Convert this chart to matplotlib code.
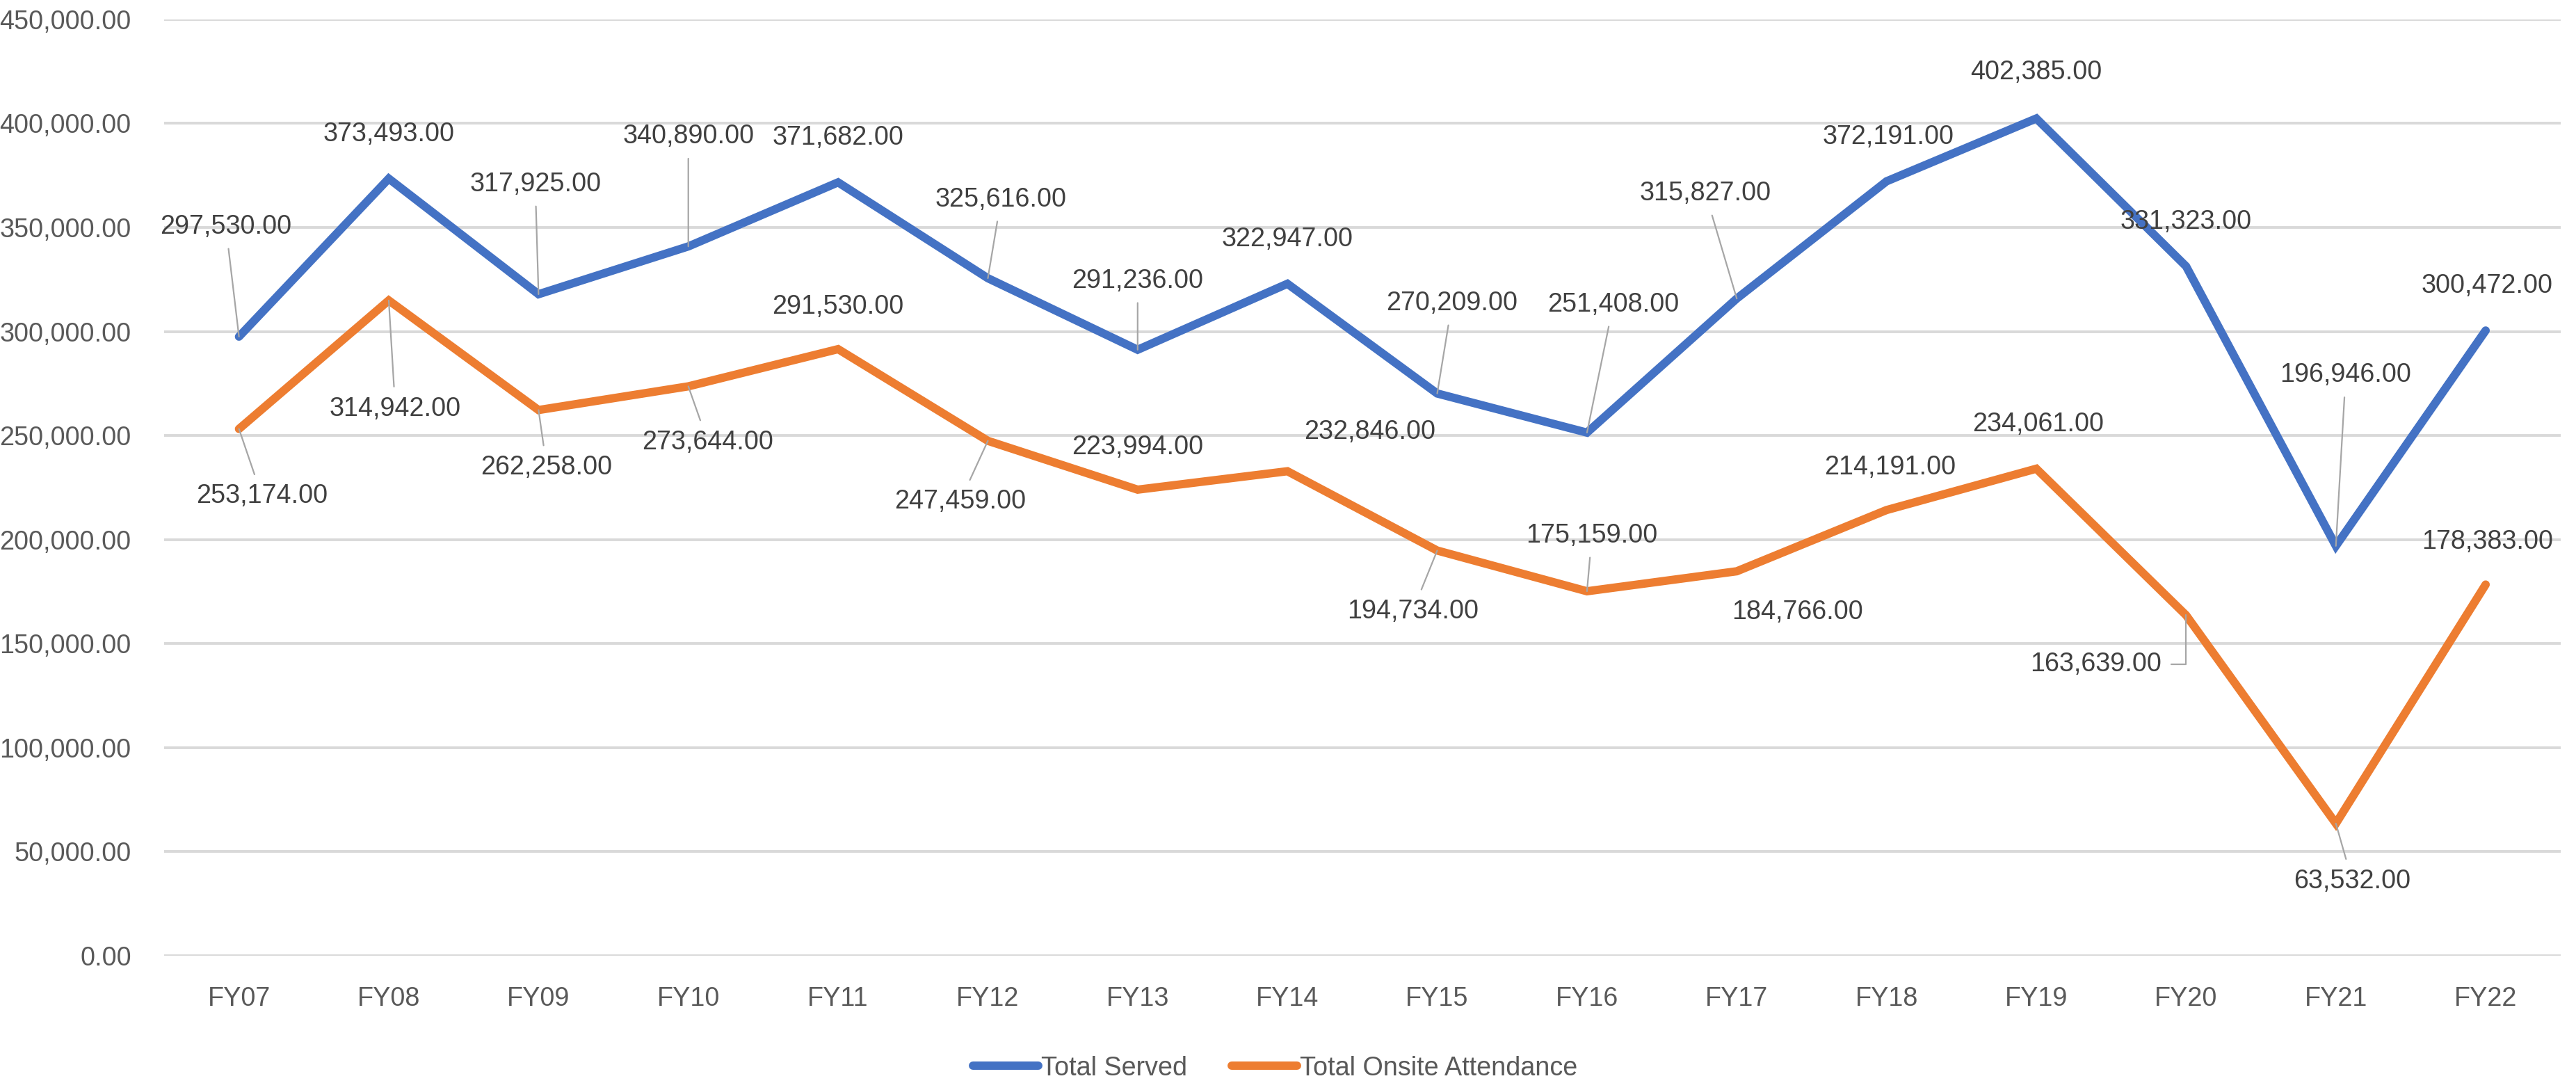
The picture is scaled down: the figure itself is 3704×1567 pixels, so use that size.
import matplotlib
matplotlib.use("Agg")
import matplotlib.pyplot as plt
from matplotlib.ticker import FuncFormatter, MultipleLocator

plt.rcParams['font.family'] = ['Liberation Sans', 'DejaVu Sans']

years = ['FY07', 'FY08', 'FY09', 'FY10', 'FY11', 'FY12', 'FY13', 'FY14',
         'FY15', 'FY16', 'FY17', 'FY18', 'FY19', 'FY20', 'FY21', 'FY22']
total_served = [297530, 373493, 317925, 340890, 371682, 325616, 291236, 322947,
                270209, 251408, 315827, 372191, 402385, 331323, 196946, 300472]
onsite_attendance = [253174, 314942, 262258, 273644, 291530, 247459, 223994, 232846,
                     194734, 175159, 184766, 214191, 234061, 163639, 63532, 178383]

# label offsets (dx, dy) in reference pixels; leader: 0 none, 1 straight, 2 elbow
served_offsets = [(-8, 67), (0, 27), (-2, 67), (0, 67), (0, 27), (8, 48), (0, 42), (0, 27),
                  (9, 55), (16, 78), (-19, 64), (1, 27), (0, 28), (0, 27), (6, 104), (1, 27)]
served_leader = [1, 0, 1, 1, 0, 1, 1, 0, 1, 1, 1, 0, 0, 0, 1, 0]
onsite_offsets = [(14, -41), (4, -66), (5, -35), (12, -34), (0, 26), (-17, -37), (0, 26), (50, 24),
                  (-15, -37), (3, 34), (37, -25), (2, 26), (1, 27), (-55, -30), (10, -35), (1, 26)]
onsite_leader = [1, 1, 1, 1, 0, 1, 0, 0, 1, 1, 0, 0, 0, 2, 1, 0]

BLUE = '#4472C4'
ORANGE = '#ED7D31'
PX = 0.85  # reference px -> points
FS = 13.6

fig = plt.figure(figsize=(18.52, 7.835), dpi=200)
ax = fig.add_axes([0.0637, 0.1232, 0.9303, 0.859])

x = list(range(len(years)))
line_kw = dict(lw=4.3, solid_joinstyle='miter', solid_capstyle='round', zorder=3)
ax.plot(x, total_served, color=BLUE, label='Total Served', **line_kw)
ax.plot(x, onsite_attendance, color=ORANGE, label='Total Onsite Attendance', **line_kw)


def add_labels(values, offsets, leaders):
    for i, v in enumerate(values):
        dx, dy = offsets[i]
        kw = {}
        if leaders[i]:
            cs = 'arc3' if leaders[i] == 1 else 'angle,angleA=0,angleB=90,rad=0'
            kw['arrowprops'] = dict(arrowstyle='-', color='#A6A6A6', lw=0.8,
                                    shrinkA=3, shrinkB=0, connectionstyle=cs)
        ax.annotate(f'{v:,.2f}', xy=(i, v), xytext=(dx * PX, dy * PX), textcoords='offset points',
                    ha='center', va='center', fontsize=FS, color='#404040', zorder=4, **kw)


add_labels(total_served, served_offsets, served_leader)
add_labels(onsite_attendance, onsite_offsets, onsite_leader)

ax.set_xlim(-0.5, len(years) - 0.5)
ax.set_ylim(0, 450000)
ax.yaxis.set_major_locator(MultipleLocator(50000))
ax.yaxis.set_major_formatter(FuncFormatter(lambda v, p: f'{v:,.2f}'))
ax.set_xticks(x)
ax.set_xticklabels(years)
ax.grid(axis='y', color='#D9D9D9', lw=1.4)
ax.set_axisbelow(True)
for s in ax.spines.values():
    s.set_visible(False)
ax.tick_params(axis='both', length=0, labelsize=FS, labelcolor='#595959')
ax.tick_params(axis='x', pad=16)
ax.tick_params(axis='y', pad=17)

leg = fig.legend(loc='center', bbox_to_anchor=(0.495, 0.02), ncol=2, frameon=False, fontsize=FS,
                 handlelength=2.5, handletextpad=0.1, columnspacing=1.7, labelcolor='#595959')
for h in leg.get_lines():
    h.set_solid_capstyle('round')

fig.savefig('out.png', dpi=200)
